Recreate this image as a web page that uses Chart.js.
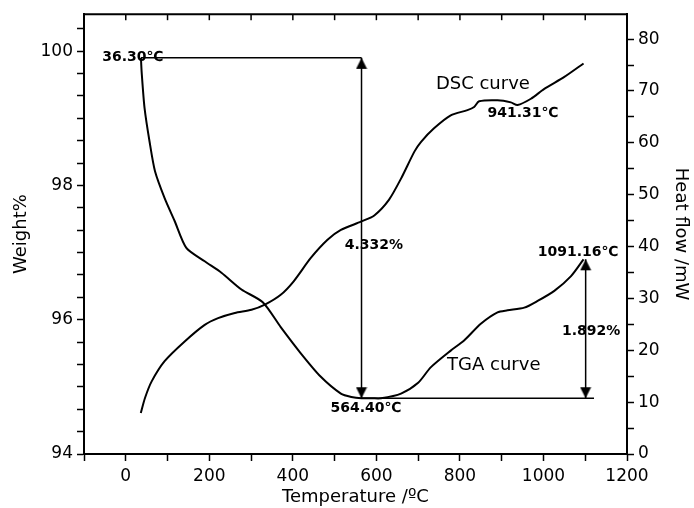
<!DOCTYPE html>
<html>
<head>
<meta charset="utf-8">
<script src="https://cdn.jsdelivr.net/npm/chart.js@4"></script>
<style>
html, body { margin: 0; padding: 0; background: #fff; }
</style>
</head>
<body>
<canvas id="chart" width="694" height="508"></canvas>
<script>
// TGA curve (left axis, weight %)
const tgaTemp = [36.3, 38, 45, 57, 70, 93, 117, 145, 189, 229, 277, 328, 371, 419, 467, 515, 540, 564.4, 590, 611, 659, 700, 730, 778, 810, 850, 890, 914, 954, 986, 1026, 1066, 1096];
const tgaWeight = [99.90, 99.69, 99.15, 98.65, 98.21, 97.81, 97.47, 97.07, 96.87, 96.70, 96.45, 96.26, 95.89, 95.50, 95.15, 94.90, 94.85, 94.83, 94.83, 94.83, 94.90, 95.06, 95.29, 95.54, 95.69, 95.94, 96.11, 96.14, 96.18, 96.28, 96.43, 96.65, 96.90];

// DSC curve (right axis, heat flow mW)
const dscTemp = [36, 46, 62, 93, 141, 189, 221, 261, 301, 333, 371, 402, 443, 483, 515, 563, 595, 630, 659, 691, 707, 738, 778, 818, 834, 846, 890, 922, 938, 970, 1002, 1050, 1096];
const dscHeat = [7.9, 10.8, 14.0, 17.9, 21.7, 24.9, 26.2, 27.2, 27.8, 28.8, 30.7, 33.3, 37.8, 41.3, 43.2, 44.8, 46.0, 49.0, 53.1, 58.3, 60.2, 62.8, 65.3, 66.3, 66.9, 68.0, 68.2, 67.8, 67.3, 68.5, 70.4, 72.7, 75.3];

// marker lines for the two weight steps
const startLevel = 99.90;   // weight at 36.30 C
const minLevel = 94.83;     // weight at 564.40 C
const endLevel = 96.90;     // weight at 1091.16 C
const minTemp = 564.4;
const startTemp = 36.3;
const gainTemp = 1101;
const baseLineEnd = 1121;

// tick labels
const xTickLabels = [0, 200, 400, 600, 800, 1000, 1200];
const weightTickLabels = [94, 96, 98, 100];
const heatTickLabels = [0, 10, 20, 30, 40, 50, 60, 70, 80];

// text notes, placed in data units (left axis)
const notes = [
	{ text: '36.30\u2103', x: 17, y: 99.90, bold: true },
	{ text: '4.332%', x: 594, y: 97.11, bold: true },
	{ text: '564.40\u2103', x: 575, y: 94.68, bold: true },
	{ text: '1091.16\u2103', x: 1083, y: 97.01, bold: true },
	{ text: '1.892%', x: 1114, y: 95.82, bold: true },
	{ text: 'TGA curve', x: 881, y: 95.32, bold: false },
	{ text: 'DSC curve', x: 855, y: 99.51, bold: false },
	{ text: '941.31\u2103', x: 951, y: 99.07, bold: true }
];

function pairs(xs, ys) {
	return xs.map((v, i) => ({ x: v, y: ys[i] }));
}

function arrow_head() {
	// triangle with its tip at the centre of the image
	let c = document.createElement('canvas');
	c.width = 12;
	c.height = 24;
	let g = c.getContext('2d');
	g.fillStyle = '#000';
	g.beginPath();
	g.moveTo(6, 12);
	g.lineTo(11.5, 23);
	g.lineTo(0.5, 23);
	g.closePath();
	g.fill();
	return c;
}
const HEAD = arrow_head();

const frame_and_notes = {
	id: 'frame_and_notes',
	afterDatasetsDraw(chart) {
		const { ctx, chartArea: area, scales } = chart;
		ctx.save();
		ctx.strokeStyle = '#000';
		ctx.lineWidth = 2;
		ctx.beginPath();
		ctx.moveTo(area.left - 1, area.top);
		ctx.lineTo(area.right + 1, area.top);
		ctx.stroke();
		// inward ticks on the top edge
		ctx.lineWidth = 1.5;
		scales.x.ticks.forEach(t => {
			let px = scales.x.getPixelForValue(t.value);
			ctx.beginPath();
			ctx.moveTo(px, area.top);
			ctx.lineTo(px, area.top + 6);
			ctx.stroke();
		});
		ctx.fillStyle = '#000';
		ctx.textAlign = 'center';
		ctx.textBaseline = 'middle';
		notes.forEach(n => {
			ctx.font = n.bold ? 'bold 14px "DejaVu Sans"' : '18px "DejaVu Sans"';
			ctx.fillText(n.text, scales.x.getPixelForValue(n.x), scales.y.getPixelForValue(n.y));
		});
		ctx.restore();
	}
};

Chart.defaults.font.family = '"DejaVu Sans", sans-serif';
Chart.defaults.color = '#000';

const lineStyle = { borderColor: '#000', borderWidth: 2, pointRadius: 0, showLine: true, tension: 0.25, fill: false };
const markStyle = { borderColor: '#000', borderWidth: 1.5, pointRadius: 0, showLine: true, fill: false };
const arrowStyle = { borderColor: '#000', backgroundColor: '#000', borderWidth: 1.5, pointRadius: 6, pointStyle: HEAD, showLine: true, fill: false };

new Chart(document.getElementById('chart'), {
	type: 'scatter',
	data: {
		datasets: [
			Object.assign({ label: 'TGA curve', data: pairs(tgaTemp, tgaWeight), yAxisID: 'y' }, lineStyle),
			Object.assign({ label: 'DSC curve', data: pairs(dscTemp, dscHeat), yAxisID: 'y1' }, lineStyle),
			Object.assign({ label: 'start level', data: pairs([startTemp, minTemp], [startLevel, startLevel]), yAxisID: 'y' }, markStyle),
			Object.assign({ label: 'min level', data: pairs([minTemp, baseLineEnd], [minLevel, minLevel]), yAxisID: 'y' }, markStyle),
			Object.assign({ label: 'loss', data: pairs([minTemp, minTemp], [startLevel, minLevel]), yAxisID: 'y', pointRotation: [0, 180] }, arrowStyle),
			Object.assign({ label: 'gain', data: pairs([gainTemp, gainTemp], [minLevel, endLevel]), yAxisID: 'y', pointRotation: [180, 0] }, arrowStyle)
		]
	},
	options: {
		responsive: false,
		animation: false,
		devicePixelRatio: 1,
		layout: { padding: 0 },
		plugins: { legend: { display: false }, tooltip: { enabled: false } },
		scales: {
			x: {
				type: 'linear',
				position: 'bottom',
				min: -100,
				max: 1200,
				afterFit: (scale) => { scale.height = 54; },
				ticks: {
					stepSize: 100,
					autoSkip: false,
					maxRotation: 0,
					padding: 5,
					font: { size: 17 },
					callback: (v) => xTickLabels.includes(v) ? v : ''
				},
				grid: { drawOnChartArea: false, tickLength: 7, tickColor: '#000', tickWidth: 1.5 },
				border: { color: '#000', width: 2 },
				title: { display: true, text: 'Temperature /\u00baC', font: { size: 18 }, padding: { top: 0, bottom: 0 } }
			},
			y: {
				position: 'left',
				min: 94,
				max: 100.55,
				afterFit: (scale) => { scale.width = 84; },
				afterBuildTicks: (scale) => {
					let ticks = [];
					for (let k = 0; k < 20; k++) ticks.push({ value: 94 + k / 3 });
					scale.ticks = ticks;
				},
				ticks: {
					autoSkip: false,
					padding: 4,
					font: { size: 17 },
					callback: (v) => {
						let r = Math.round(v);
						return (Math.abs(v - r) < 1e-6 && weightTickLabels.includes(r)) ? r : '';
					}
				},
				grid: { drawOnChartArea: false, tickLength: 7, tickColor: '#000', tickWidth: 1.5 },
				border: { color: '#000', width: 2 },
				title: { display: true, text: 'Weight%', font: { size: 18 }, padding: { top: 11, bottom: 0 } }
			},
			y1: {
				position: 'right',
				min: 0,
				max: 84.8,
				afterFit: (scale) => { scale.width = 67; },
				afterBuildTicks: (scale) => {
					scale.ticks = scale.ticks.filter(t => t.value % 5 === 0);
				},
				ticks: {
					stepSize: 5,
					autoSkip: false,
					padding: 4,
					font: { size: 17 },
					callback: (v) => heatTickLabels.includes(v) ? v : ''
				},
				grid: { drawOnChartArea: false, tickLength: 7, tickColor: '#000', tickWidth: 1.5 },
				border: { color: '#000', width: 2 },
				title: { display: true, text: 'Heat flow /mW', font: { size: 18 }, padding: { top: 3, bottom: 0 } }
			}
		}
	},
	plugins: [frame_and_notes]
});
</script>
</body>
</html>
